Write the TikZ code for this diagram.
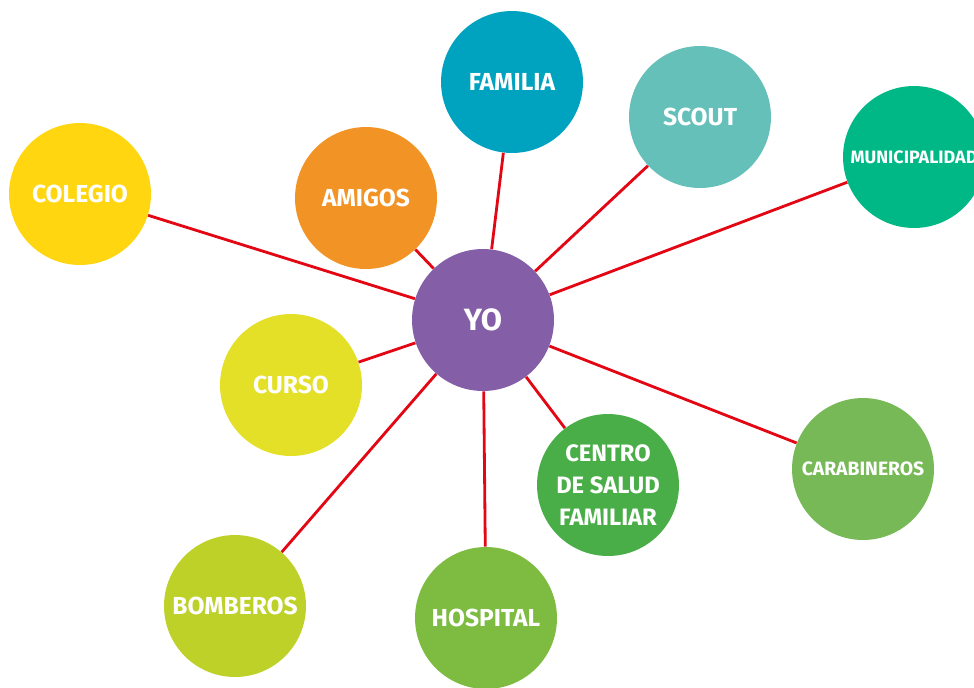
\documentclass[tikz,border=0pt]{standalone}
\usepackage{fontspec}
\setmainfont{Fira Sans}

\begin{document}
\begin{tikzpicture}[x=0.02cm,y=-0.02cm]

  \definecolor{yocol}{HTML}{845EA7}
  \definecolor{famcol}{HTML}{00A3BF}
  \definecolor{scocol}{HTML}{65C0BA}
  \definecolor{muncol}{HTML}{00B886}
  \definecolor{colcol}{HTML}{FFD60F}
  \definecolor{amicol}{HTML}{F29325}
  \definecolor{curcol}{HTML}{E4DF27}
  \definecolor{cescol}{HTML}{4AAE48}
  \definecolor{carcol}{HTML}{77B957}
  \definecolor{bomcol}{HTML}{BED129}
  \definecolor{hoscol}{HTML}{7DBB41}
  \definecolor{lincol}{HTML}{E30613}

  \tikzset{
      bub/.style={circle,minimum size=2.84cm,inner sep=0pt,text=white,
        font=\bfseries\fontsize{14}{16}\selectfont,align=center},
      smallbub/.style={bub,font=\bfseries\fontsize{11}{13}\selectfont},
      link/.style={draw=lincol,line width=1.6pt},
    }

  % picture frame, 974 x 687
  \clip (0,0) rectangle (974,687);

  \node[bub,fill=yocol,font=\bfseries\fontsize{17.5}{20}\selectfont] (yo) at (483,320) {YO};

  \node[bub,fill=famcol] (familia) at (512,82) {FAMILIA};
  \node[bub,fill=scocol] (scout) at (700,117) {SCOUT};
  \node[smallbub,fill=muncol,font=\bfseries\fontsize{10.2}{12}\selectfont] (municipalidad) at (914,157) {MUNICIPALIDAD};
  \node[bub,fill=colcol] (colegio) at (80,194) {COLEGIO};
  \node[bub,fill=amicol] (amigos) at (366,198) {AMIGOS};
  \node[bub,fill=curcol] (curso) at (291,385) {CURSO};
  \node[bub,fill=cescol,font=\bfseries\fontsize{13.5}{18}\selectfont] (cesfam) at (608,485) {CENTRO\\DE SALUD\\FAMILIAR};
  \node[smallbub,fill=carcol] (carabineros) at (863,469) {CARABINEROS};
  \node[bub,fill=bomcol] (bomberos) at (235,606) {BOMBEROS};
  \node[bub,fill=hoscol] (hospital) at (486,618) {HOSPITAL};

  %% red links, yo to every circle
  \foreach \n in {familia,scout,municipalidad,colegio,amigos,curso,cesfam,carabineros,bomberos,hospital}
    \draw[link] (yo) -- (\n);

\end{tikzpicture}
\end{document}
